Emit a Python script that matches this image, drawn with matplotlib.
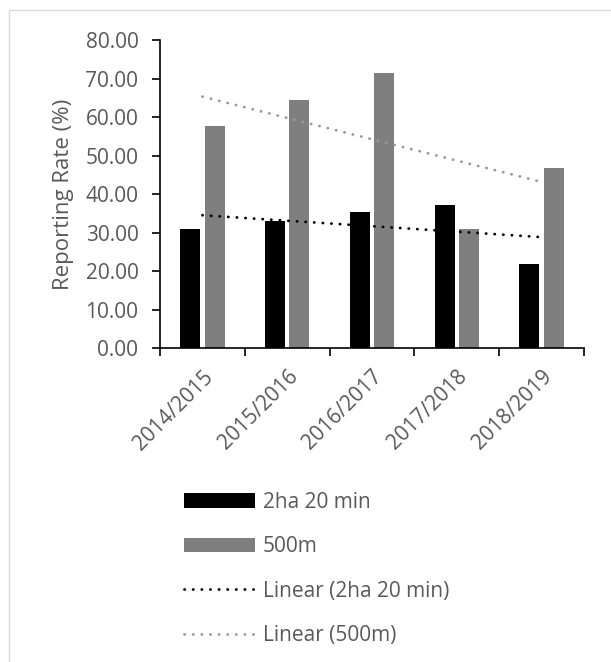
import numpy as np
import matplotlib
matplotlib.use("Agg")
import matplotlib.pyplot as plt
from matplotlib.patches import Rectangle

# datos
temporadas = ["2014/2015", "2015/2016", "2016/2017", "2017/2018", "2018/2019"]
tasa_2ha = [31.0, 33.0, 35.4, 37.2, 21.8]
tasa_500m = [57.7, 64.3, 71.5, 31.0, 46.7]

plt.rcParams['font.family'] = ['Open Sans', 'DejaVu Sans']
gris_texto = '#595959'

fig = plt.figure(figsize=(6.11, 6.62), dpi=100)
ax = fig.add_axes([0.2619, 0.4739, 0.6939, 0.4657])

x = np.arange(len(temporadas))
ancho = 0.236
off = 0.144
b1 = ax.bar(x - off, tasa_2ha, ancho, color='black', label='2ha 20 min')
b2 = ax.bar(x + off, tasa_500m, ancho, color='#7f7f7f', label='500m')

# lineas de tendencia lineal (como Excel)
p1 = np.polyfit(x, tasa_2ha, 1)
p2 = np.polyfit(x, tasa_500m, 1)
l1, = ax.plot(x, np.polyval(p1, x), color='black', lw=2.0,
              linestyle=(0, (0.1, 3.0)), dash_capstyle='round',
              label='Linear (2ha 20 min)')
l2, = ax.plot(x, np.polyval(p2, x), color='#9a9a9a', lw=2.0,
              linestyle=(0, (0.1, 3.0)), dash_capstyle='round',
              label='Linear (500m)')

ax.set_xlim(-0.5, 4.5)
ax.set_ylim(0, 80)
ax.set_yticks(np.arange(0, 81, 10))
ax.set_yticklabels([f"{v:.2f}" for v in np.arange(0, 81, 10)])
ax.set_xticks(x)
ax.set_xticklabels(temporadas, rotation=45, ha='right', rotation_mode='anchor')
ax.set_xticks(np.arange(-0.5, 5, 1), minor=True)
ax.tick_params(axis='x', which='major', length=0, pad=13, labelsize=15, labelcolor=gris_texto)
ax.tick_params(axis='x', which='minor', length=5.5, width=1.2, direction='out', color='black')
ax.tick_params(axis='y', length=5.5, width=1.2, direction='out', pad=10, labelsize=15,
               labelcolor=gris_texto, color='black')

for s in ['top', 'right']:
    ax.spines[s].set_visible(False)
ax.spines['left'].set_linewidth(1.2)
ax.spines['bottom'].set_linewidth(1.2)

ax.set_ylabel("Reporting Rate (%)", fontsize=16, color=gris_texto, labelpad=8)

fig.legend(handles=[b1, b2, l1, l2], loc='upper left',
           bbox_to_anchor=(0.27, 0.285), frameon=False, fontsize=15,
           labelcolor=gris_texto, handlelength=3.4, handleheight=0.7,
           handletextpad=0.4, labelspacing=1.12)

# borde del area del grafico
fig.patches.append(Rectangle((9 / 611, -0.05), 1.1, 1 - 10 / 662 + 0.05,
                             transform=fig.transFigure, fill=False,
                             edgecolor='#d9d9d9', lw=1.0))

fig.savefig("out.png", dpi=100)
